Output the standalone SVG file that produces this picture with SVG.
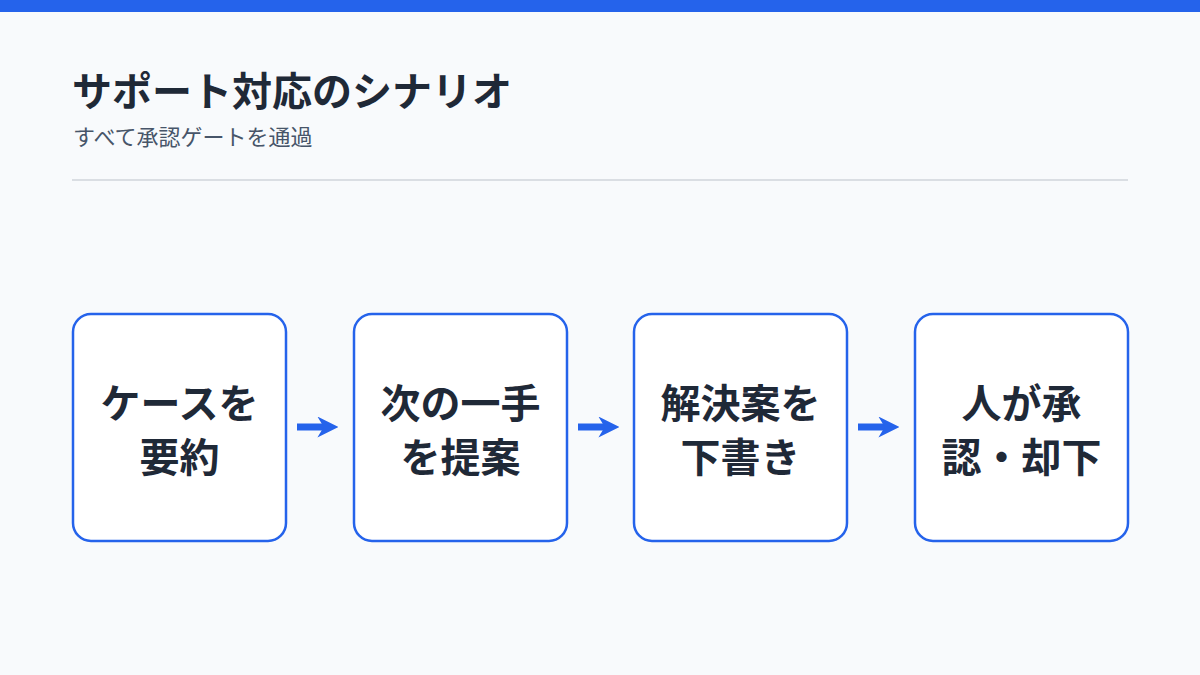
<svg xmlns="http://www.w3.org/2000/svg" width="1200" height="675" viewBox="0 0 1200 675">
<style>
.t{font-family:"Noto Sans CJK JP","Noto Sans",sans-serif;fill:#1f2937}
.box{fill:#fff;stroke:#2563eb;stroke-width:2.5}
.n{font-size:40px;font-weight:700;text-anchor:middle}
.c{stroke:#2563eb;stroke-width:7;fill:none}
</style>
<defs><marker id="ah" viewBox="0 0 10 10" refX="6" refY="5" markerWidth="3" markerHeight="3" orient="auto"><path d="M0,0 L10,5 L0,10 L3,5 Z" fill="#2563eb"/></marker></defs>
<rect width="1200" height="675" fill="#f8fafc"/>
<rect width="1200" height="12" fill="#2563eb"/>
<text class="t" x="72" y="106" font-size="40" font-weight="700">サポート対応のシナリオ</text>
<text class="t" x="73" y="145" font-size="22" fill="#475569" style="fill:#475569">すべて承認ゲートを通過</text>
<line x1="72" y1="180" x2="1128" y2="180" stroke="#d1d5db" stroke-width="1.5"/>
<g id="connectors">
<line class="c" x1="297" y1="427" x2="330" y2="427" marker-end="url(#ah)"/>
<line class="c" x1="578" y1="427" x2="611" y2="427" marker-end="url(#ah)"/>
<line class="c" x1="858" y1="427" x2="891" y2="427" marker-end="url(#ah)"/>
</g>
<g id="n1"><rect class="box" x="73" y="314" width="213" height="227" rx="18"/><text class="t n" x="179.5" y="418">ケースを</text><text class="t n" x="179.5" y="472">要約</text></g>
<g id="n2"><rect class="box" x="354" y="314" width="213" height="227" rx="18"/><text class="t n" x="460.5" y="418">次の一手</text><text class="t n" x="460.5" y="472">を提案</text></g>
<g id="n3"><rect class="box" x="634" y="314" width="213" height="227" rx="18"/><text class="t n" x="740.5" y="418">解決案を</text><text class="t n" x="740.5" y="472">下書き</text></g>
<g id="n4"><rect class="box" x="915" y="314" width="213" height="227" rx="18"/><text class="t n" x="1021.5" y="418">人が承</text><text class="t n" x="1021.5" y="472">認・却下</text></g>
</svg>
